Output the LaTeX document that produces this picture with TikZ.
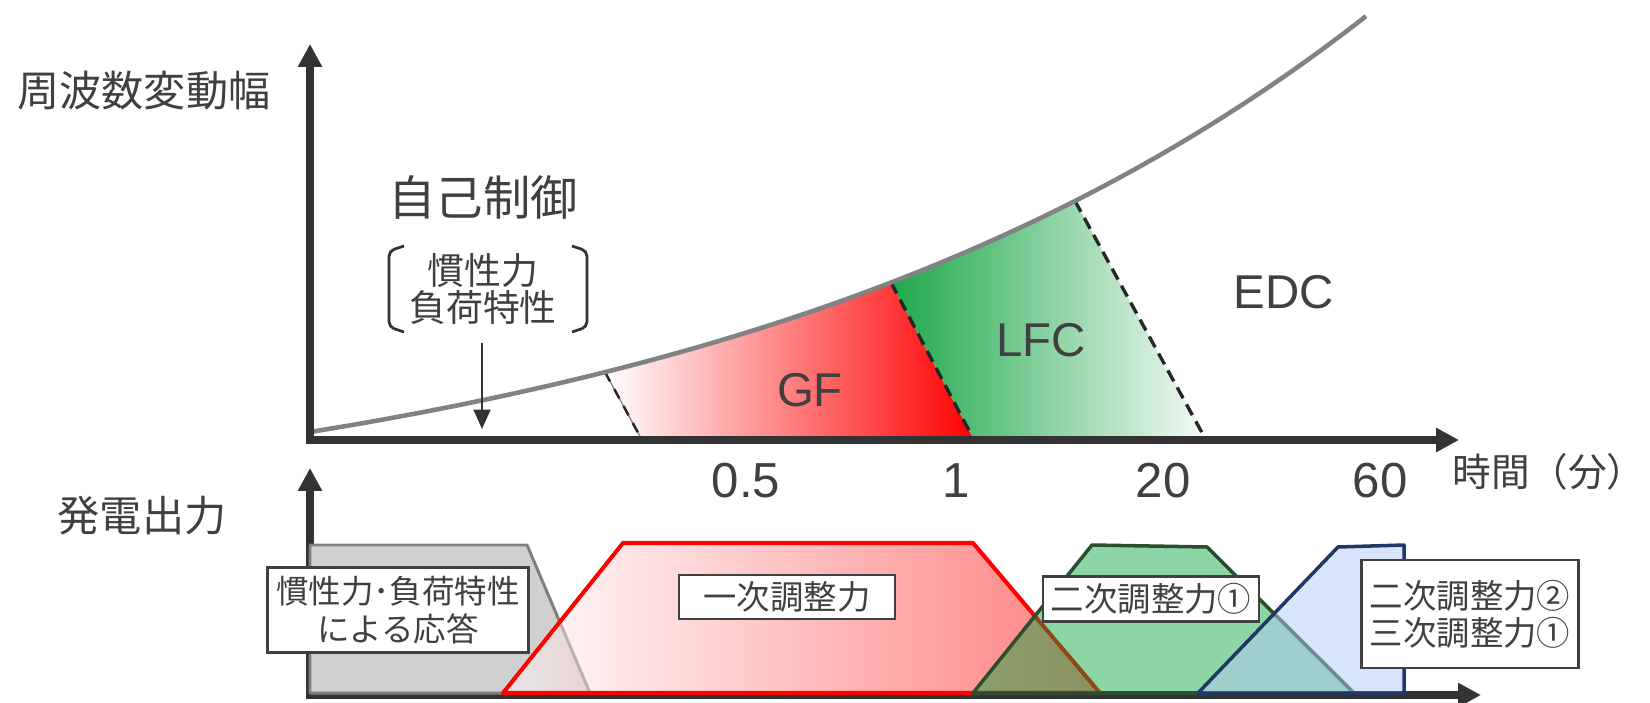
\documentclass[tikz,border=0pt]{standalone}
\usepackage{fontspec}
\setmainfont{Liberation Sans}
\newfontfamily\jp{Noto Sans CJK JP}
\usetikzlibrary{arrows.meta}
\definecolor{axcol}{HTML}{333333}
\definecolor{txt}{HTML}{404040}
\definecolor{curvecol}{HTML}{828282}
\definecolor{grayfill}{HTML}{D0D0D0}
\definecolor{grayedge}{HTML}{7F7F7F}
\definecolor{lfcgreen}{HTML}{1EA84C}
\definecolor{lfcend}{HTML}{F6FBF6}
\definecolor{greenfill}{HTML}{00A438}
\definecolor{greenedge}{HTML}{2E4D2E}
\definecolor{bluefill}{HTML}{B1C9F5}
\definecolor{blueedge}{HTML}{1F3864}
\begin{document}
\begin{tikzpicture}[x=0.02cm,y=-0.02cm,
  axisarrow/.style={draw=axcol, line width=4pt, -{Triangle[width=13pt,length=13pt]}},
  curveline/.style={draw=curvecol, line width=2.6pt},
  dashline/.style={draw=black!85, line width=1.9pt, dash pattern=on 7pt off 4pt},
  jptext/.style={text=txt, inner sep=0pt, font=\jp\fontsize{#1}{1.15\dimexpr#1\relax}\selectfont},
  lattext/.style={text=txt, inner sep=0pt, font=\fontsize{#1}{1.2\dimexpr#1\relax}\selectfont},
  labelbox/.style={draw=txt, line width=1.3pt, fill=white, text=txt, inner sep=0pt, align=center,
     font=\jp\fontsize{19pt}{21pt}\selectfont},
  bracket/.style={draw=axcol, line width=1.6pt, rounded corners=3pt},
  smallarrow/.style={draw=axcol, line width=1.5pt, -{Triangle[width=9.5pt,length=11pt]}}
]
\useasboundingbox (0,0) rectangle (1650,703);

% ---------- upper panel ----------
% GF region
\shade[left color=white, right color=red]
  (642,440) -- plot[domain=605:891, samples=40] (\x, {432-108*(exp(0.0015*(\x-310))-1)})
  -- (974,440) -- cycle;
% LFC region
\shade[left color=lfcgreen, right color=lfcend]
  (974,440) -- plot[domain=891:1075, samples=30] (\x, {432-108*(exp(0.0015*(\x-310))-1)})
  -- (1206,440) -- cycle;

% dashed boundaries
\coordinate (d1t) at (605,{432-108*(exp(0.0015*(605-310))-1)});
\coordinate (d1b) at (642,440);
\coordinate (d2t) at (891,{432-108*(exp(0.0015*(891-310))-1)});
\coordinate (d2b) at (974,440);
\coordinate (d3t) at (1075,{432-108*(exp(0.0015*(1075-310))-1)});
\coordinate (d3b) at (1206,440);
\draw[draw=gray, line width=0.7pt] (d1t) -- (d1b);
\draw[draw=black!85, line width=1.4pt, dash pattern=on 6pt off 5pt] (d1t) -- (d1b);
\draw[dashline] (d2t) -- (d2b);
\draw[dashline] (d3t) -- (d3b);

% frequency deviation curve
\draw[curveline] plot[domain=310:1366, samples=120] (\x, {432-108*(exp(0.0015*(\x-310))-1)});

% axes
\coordinate (o1v) at (310,443.5);
\coordinate (o1h) at (306.5,440);
\coordinate (ytop) at (310,44);
\coordinate (xend) at (1459,440);
\draw[axisarrow] (o1v) -- (ytop);
\draw[axisarrow] (o1h) -- (xend);

% labels upper
\node[jptext=24pt] (ylab) at (144,91) {周波数変動幅};
\node[jptext=27pt] (jiko) at (483,197) {自己制御};
\node[jptext=21pt, align=center] (kansei) at (483,289) {慣性力\\[-3pt]負荷特性};
\draw[bracket] (404,246) -- (389,251) -- (389,327) -- (404,332);
\draw[bracket] (572,246) -- (587,251) -- (587,327) -- (572,332);
\coordinate (arrs) at (482,343);
\coordinate (arre) at (482,429);
\draw[smallarrow] (arrs) -- (arre);

\node[lattext=27pt] (gf) at (810,390) {GF};
\node[lattext=27pt] (lfc) at (1041,340) {LFC};
\node[lattext=27pt] (edc) at (1284,292) {EDC};

\node[lattext=28pt] (t05) at (746,481) {0.5};
\node[lattext=28pt] (t1) at (956,481) {1};
\node[lattext=28pt] (t20) at (1163,481) {20};
\node[lattext=28pt] (t60) at (1380,481) {60};
\node[jptext=22pt] (xlab) at (1549,472) {時間（分）};

% ---------- lower panel ----------
\node[jptext=24pt] (ylab2) at (142,516) {発電出力};
\coordinate (o2v) at (310,698.5);
\coordinate (o2h) at (306.5,695);
\coordinate (ytop2) at (310,468);
\coordinate (xend2) at (1481,695);
\draw[axisarrow] (o2v) -- (ytop2);
\draw[axisarrow] (o2h) -- (xend2);

% inertia / load characteristic response
\filldraw[fill=grayfill, draw=grayedge, line width=1.7pt, line join=round]
  (310,693) -- (310,545) -- (527,545) -- (590,693) -- cycle;
% primary reserve
\shade[left color=white, right color=red, fill opacity=0.5]
  (503,693) -- (623,543) -- (973,543) -- (1100,693) -- cycle;
\draw[draw=red, line width=2.3pt, line join=round]
  (503,693) -- (623,543) -- (973,543) -- (1100,693) -- cycle;
% secondary reserve 1
\fill[greenfill, fill opacity=0.45]
  (973,693) -- (1092,545) -- (1207,547) -- (1354,693) -- cycle;
\draw[draw=greenedge, line width=2pt, line join=round]
  (973,693) -- (1092,545) -- (1207,547) -- (1354,693) -- cycle;
% secondary 2 / tertiary 1
\fill[bluefill, fill opacity=0.5]
  (1198,693) -- (1338,547) -- (1404,545) -- (1404,693) -- cycle;
\draw[draw=blueedge, line width=2pt, line join=round]
  (1198,693) -- (1338,547) -- (1404,545) -- (1404,693) -- cycle;

% label boxes
\node[labelbox, minimum width=5.22cm, minimum height=1.70cm,
      font=\jp\fontsize{18.5pt}{22pt}\selectfont] (bgray) at (398,610)
      {慣性力･負荷特性\\による応答};
\node[labelbox, minimum width=4.32cm, minimum height=0.88cm] (bred) at (787,597) {一次調整力};
\node[labelbox, minimum width=4.32cm, minimum height=0.90cm] (bgreen) at (1151,599) {二次調整力①};
\node[labelbox, minimum width=4.34cm, minimum height=2.16cm] (bblue) at (1470,614)
      {二次調整力②\\三次調整力①};
\end{tikzpicture}
\end{document}
